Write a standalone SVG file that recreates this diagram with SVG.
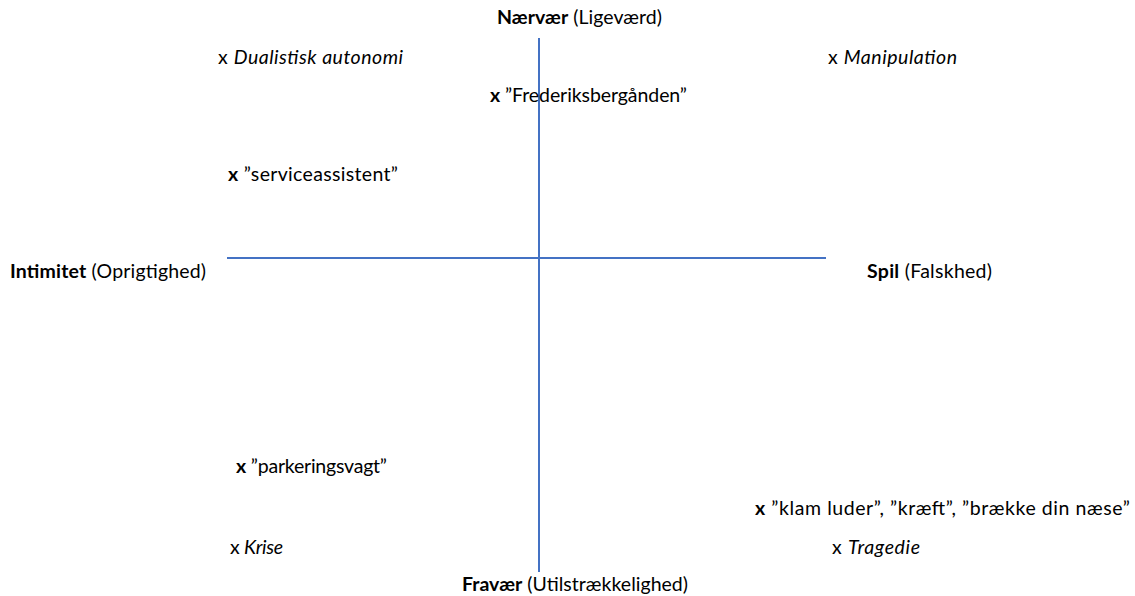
<svg xmlns="http://www.w3.org/2000/svg" width="1135" height="596" viewBox="0 0 1135 596">
<style>
text{font-family:Lato,"Liberation Sans",sans-serif;font-size:19.5px;fill:#000}
.b{font-weight:bold}
.i{font-style:italic}
.axis{stroke:#4472C4;stroke-width:2;fill:none}
</style>
<rect width="1135" height="596" fill="#fff"/>
<g id="connectors">
<line class="axis" x1="539" y1="38" x2="539" y2="572"/>
<line class="axis" x1="227" y1="258" x2="826" y2="258"/>
</g>
<g id="n-top"><text x="497" y="24" textLength="165"><tspan class="b">Nærvær</tspan> (Ligeværd)</text></g>
<g id="n-bottom"><text x="462" y="591" textLength="226"><tspan class="b">Fravær</tspan> (Utilstrækkelighed)</text></g>
<g id="n-left"><text x="10" y="278" textLength="196"><tspan class="b">Intimitet</tspan> (Oprigtighed)</text></g>
<g id="n-right"><text x="867" y="278" textLength="125"><tspan class="b">Spil</tspan> (Falskhed)</text></g>
<g id="c-tl"><text x="218" y="64" textLength="185">x <tspan class="i">Dualistisk autonomi</tspan></text></g>
<g id="c-tr"><text x="828" y="64" textLength="129">x <tspan class="i">Manipulation</tspan></text></g>
<g id="c-bl"><text x="230" y="554" textLength="53">x <tspan class="i">Krise</tspan></text></g>
<g id="c-br"><text x="832" y="554" textLength="88">x <tspan class="i">Tragedie</tspan></text></g>
<g id="p-frb"><text x="490" y="102" textLength="197"><tspan class="b">x</tspan> ”Frederiksbergånden”</text></g>
<g id="p-serv"><text x="228" y="181" textLength="170"><tspan class="b">x</tspan> ”serviceassistent”</text></g>
<g id="p-park"><text x="236" y="473" textLength="151"><tspan class="b">x</tspan> ”parkeringsvagt”</text></g>
<g id="p-klam"><text x="755" y="515" textLength="375"><tspan class="b">x</tspan> ”klam luder”, ”kræft”, ”brække din næse”</text></g>
</svg>
